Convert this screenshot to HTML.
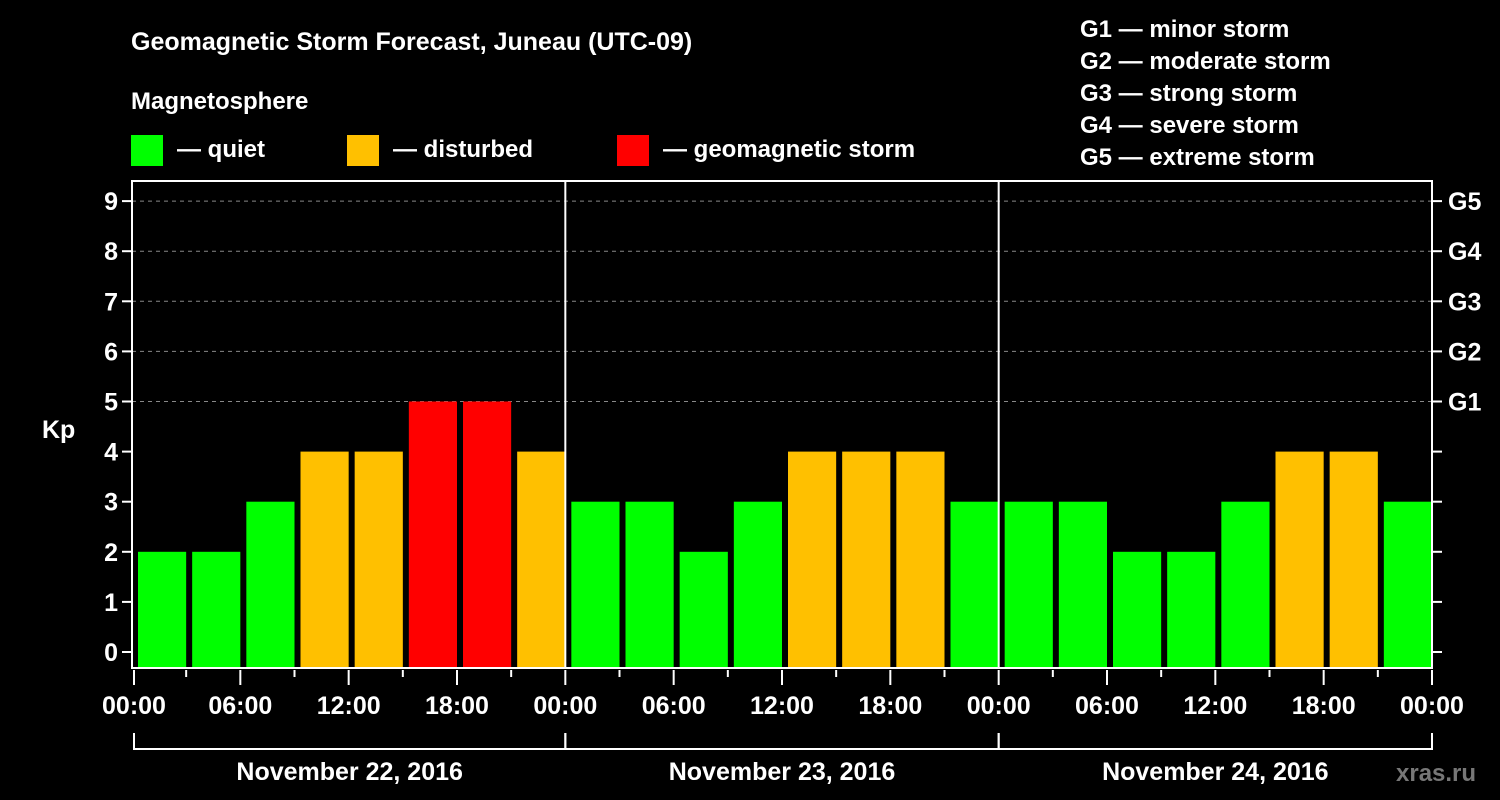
<!DOCTYPE html>
<html><head><meta charset="utf-8"><style>
html,body{margin:0;padding:0;background:#000;width:1500px;height:800px;overflow:hidden}
svg text{font-family:"Liberation Sans",Arial,sans-serif;font-weight:bold;fill:#fff}
</style></head><body>
<svg id="chart" width="1500" height="800" xmlns="http://www.w3.org/2000/svg">
<rect x="0" y="0" width="1500" height="800" fill="#000"/>
<text x="131" y="50" font-size="25">Geomagnetic Storm Forecast, Juneau (UTC-09)</text>
<text x="131" y="109" font-size="24">Magnetosphere</text>
<g><rect x="131" y="135" width="32" height="31" fill="#00ff00"/><text x="177" y="157" font-size="24">— quiet</text></g>
<g><rect x="347" y="135" width="32" height="31" fill="#ffc000"/><text x="393" y="157" font-size="24">— disturbed</text></g>
<g><rect x="617" y="135" width="32" height="31" fill="#ff0000"/><text x="663" y="157" font-size="24">— geomagnetic storm</text></g>
<g font-size="24">
<text x="1080" y="37" font-size="24">G1 — minor storm</text>
<text x="1080" y="69" font-size="24">G2 — moderate storm</text>
<text x="1080" y="101" font-size="24">G3 — strong storm</text>
<text x="1080" y="133" font-size="24">G4 — severe storm</text>
<text x="1080" y="165" font-size="24">G5 — extreme storm</text>
</g>
<text x="42" y="438" font-size="25">Kp</text>
<text x="1396" y="781" font-size="24" style="fill:#777">xras.ru</text>
<g id="grid"></g><g id="bars"></g><g id="axes"></g>
</svg>
<script>
const categories = ["22-00","22-03","22-06","22-09","22-12","22-15","22-18","22-21","23-00","23-03","23-06","23-09","23-12","23-15","23-18","23-21","24-00","24-03","24-06","24-09","24-12","24-15","24-18","24-21"];
const kpValues = [2,2,3,4,4,5,5,4, 3,3,2,3,4,4,4,3, 3,3,2,2,3,4,4,3];
const kpTicks = [0,1,2,3,4,5,6,7,8,9];
const gTicks = ["G1","G2","G3","G4","G5"];
const timeLabels = ["00:00","06:00","12:00","18:00","00:00","06:00","12:00","18:00","00:00","06:00","12:00","18:00","00:00"];
const dayLabels = ["November 22, 2016","November 23, 2016","November 24, 2016"];

const NS="http://www.w3.org/2000/svg";
const L=132, R=1432, T=181, B=668;
const yScale = v => 652 - v*50.1;
const slot = (R-L)/categories.length;
const xScale = i => L + i*slot;
function mk(tag, attrs, parent){const e=document.createElementNS(NS,tag);for(const k in attrs)e.setAttribute(k,attrs[k]);parent.appendChild(e);return e;}
const grid=document.getElementById('grid'), bars=document.getElementById('bars'), axes=document.getElementById('axes');

kpTicks.forEach(v=>{
  const y=yScale(v);
  if(v>=5){const g=mk('line',{x1:L,x2:R,y1:y,y2:y,stroke:'#888','stroke-width':1,'stroke-dasharray':'4,4'},grid);
  
  }
  const t=mk('line',{x1:L-10,x2:L,y1:y,y2:y,stroke:'#fff','stroke-width':2},axes);
  
  
  const lb=mk('text',{x:L-14,y:y+9,'font-size':25,'text-anchor':'end'},axes); lb.textContent=v;
  
  
  const rt=mk('line',{x1:R,x2:R+10,y1:y,y2:y,stroke:'#fff','stroke-width':2},axes);
  
  
});
gTicks.forEach((g,i)=>{
  const y=yScale(5+i);
  const lb=mk('text',{x:R+16,y:y+9,'font-size':25},axes); lb.textContent=g;
  
  
});

kpValues.forEach((v,i)=>{
  const col = v>=5?'#ff0000':(v>=4?'#ffc000':'#00ff00');
  const x0=xScale(i)+6, x1=xScale(i+1);
  const r=mk('rect',{x:x0,y:yScale(v),width:x1-x0,height:B-yScale(v),fill:col},bars);
  
  
});

const frame=mk('rect',{x:L,y:T,width:R-L,height:B-T,fill:'none',stroke:'#fff','stroke-width':2},axes);


[1,2].forEach(d=>{
  const x=xScale(d*8);
  const l=mk('line',{x1:x,x2:x,y1:T,y2:B,stroke:'#fff','stroke-width':2},axes);
  
  
});
for(let i=0;i<=categories.length;i++){
  const x=xScale(i)+ (i===0?2:0);
  const major=i%2===0;
  const t=mk('line',{x1:x,x2:x,y1:B+2,y2:major?B+17:B+9,stroke:'#fff','stroke-width':2},axes);
  
  
}
timeLabels.forEach((s,i)=>{
  const x=xScale(i*2)+(i===0?2:0);
  const lb=mk('text',{x:x,y:714,'font-size':25,'text-anchor':'middle'},axes); lb.textContent=s;
  
  
});
dayLabels.forEach((s,d)=>{
  const xa=xScale(d*8)+(d===0?2:0), xb=xScale(d*8+8);
  const p=mk('path',{d:`M${xa},733 V749 H${xb} V733`,fill:'none',stroke:'#fff','stroke-width':2},axes);
  
  
  const lb=mk('text',{x:(xa+xb)/2,y:780,'font-size':25,'text-anchor':'middle'},axes); lb.textContent=s;
  
  
});
</script>
</body></html>
